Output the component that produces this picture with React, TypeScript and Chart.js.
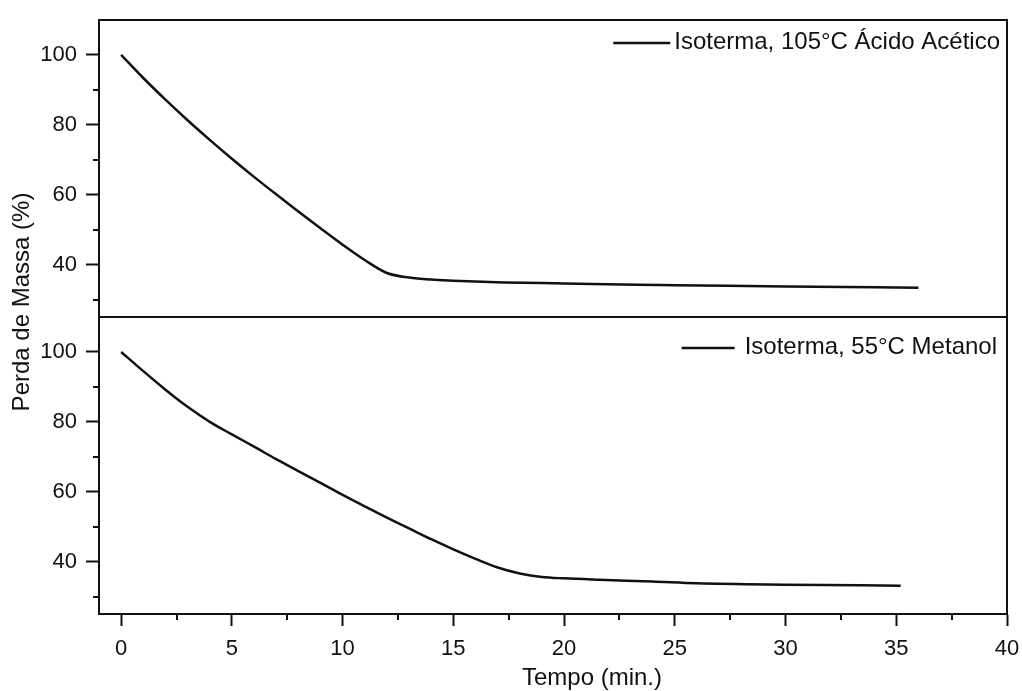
import React, { useEffect, useRef } from 'react';
import { Chart, registerables } from 'chart.js';

Chart.register(...registerables);

// ---- Data ----
const TIME_ACETIC = [0, 1, 2, 3, 4, 5, 6, 7, 8, 9, 10, 11, 12, 13, 14, 15, 17.3, 20, 23.3, 25, 30, 36];
const MASS_ACETIC = [100, 93.4, 87.2, 81.3, 75.7, 70.3, 65.1, 60.1, 55.2, 50.4, 45.7, 41.3, 37.6, 36.3, 35.7, 35.4, 34.9, 34.6, 34.2, 34.1, 33.7, 33.4];

const TIME_METANOL = [0, 1, 2, 3, 4, 5, 6, 7, 8, 9, 10, 11, 12, 13, 14, 15, 16, 17, 18, 19, 20, 21.6, 24, 26, 30, 35.2];
const MASS_METANOL = [100, 94.5, 89.2, 84.3, 80.0, 76.4, 72.9, 69.3, 65.9, 62.5, 59.1, 55.8, 52.6, 49.5, 46.4, 43.5, 40.8, 38.3, 36.6, 35.6, 35.2, 34.8, 34.3, 33.8, 33.4, 33.1];

const LABEL_ACETIC = 'Isoterma, 105°C Ácido Acético';
const LABEL_METANOL = 'Isoterma, 55°C Metanol';

const X_TITLE = 'Tempo (min.)';
const Y_TITLE = 'Perda de Massa (%)';

const X_TICKS = [0, 5, 10, 15, 20, 25, 30, 35, 40];
const X_MINOR_TICKS = [2.5, 7.5, 12.5, 17.5, 22.5, 27.5, 32.5, 37.5];
const Y_TICKS = [40, 60, 80, 100];
const Y_MINOR_TICKS = [30, 50, 70, 90];

const FONT = "'Liberation Sans', Arial, Helvetica, sans-serif";
const INK = '#111';

const toPoints = (xs: number[], ys: number[]) => xs.map((x, i) => ({ x, y: ys[i] }));

const decorPlugin = {
  id: 'decor',
  afterDraw(chart: any) {
    const { ctx, chartArea, scales } = chart;
    const x = scales.x;
    const yTop = scales.yTop;
    const yBottom = scales.yBottom;
    ctx.save();
    ctx.strokeStyle = INK;
    ctx.lineWidth = 2;
    // frames
    ctx.strokeRect(chartArea.left, yTop.top, chartArea.right - chartArea.left, yTop.bottom - yTop.top);
    ctx.strokeRect(chartArea.left, yBottom.top, chartArea.right - chartArea.left, yBottom.bottom - yBottom.top);
    // minor ticks
    ctx.beginPath();
    [yTop, yBottom].forEach((s: any) => {
      Y_MINOR_TICKS.forEach((v) => {
        const py = Math.round(s.getPixelForValue(v));
        ctx.moveTo(chartArea.left - 6, py);
        ctx.lineTo(chartArea.left, py);
      });
    });
    X_MINOR_TICKS.forEach((v) => {
      const px = Math.round(x.getPixelForValue(v));
      ctx.moveTo(px, chartArea.bottom);
      ctx.lineTo(px, chartArea.bottom + 6);
    });
    ctx.stroke();

    // axis titles
    ctx.fillStyle = INK;
    ctx.font = `24px ${FONT}`;
    ctx.textAlign = 'center';
    ctx.textBaseline = 'middle';
    ctx.fillText(X_TITLE, 592, 678);
    ctx.save();
    ctx.translate(22, 302);
    ctx.rotate(-Math.PI / 2);
    ctx.fillText(Y_TITLE, 0, 0);
    ctx.restore();

    // legends
    const legends = [
      { ds: 0, right: chartArea.right - 7, y: yTop.top + 22, gap: 4, len: 57 },
      { ds: 1, right: chartArea.right - 10, y: yBottom.top + 30, gap: 10, len: 53 },
    ];
    ctx.font = `24px ${FONT}`;
    ctx.textAlign = 'right';
    legends.forEach((l) => {
      const label = chart.data.datasets[l.ds].label;
      const w = ctx.measureText(label).width;
      ctx.fillText(label, l.right, l.y);
      const x1 = l.right - w - l.gap;
      ctx.lineWidth = 2.5;
      ctx.beginPath();
      ctx.moveTo(x1 - l.len, l.y + 1);
      ctx.lineTo(x1, l.y + 1);
      ctx.stroke();
    });
    ctx.restore();
  },
};

export default function App() {
  const canvasRef = useRef<HTMLCanvasElement | null>(null);

  useEffect(() => {
    if (!canvasRef.current) return;
    const tickFont = { family: FONT, size: 22 };
    const yScale = (extra: any) => ({
      type: 'linear',
      position: 'left',
      stack: 'panels',
      stackWeight: 1,
      min: 25,
      max: 110,
      afterBuildTicks: (s: any) => {
        s.ticks = Y_TICKS.map((value) => ({ value }));
      },
      afterFit: (s: any) => {
        s.width = 99;
        s.paddingTop = 0;
        s.paddingBottom = 0;
      },
      grid: {
        display: true,
        drawOnChartArea: false,
        drawTicks: true,
        tickLength: 13,
        tickWidth: 2,
        tickColor: INK,
      },
      border: { display: true, color: INK, width: 2 },
      ticks: { color: INK, font: tickFont, padding: 9 },
      ...extra,
    });

    const chart = new Chart(canvasRef.current, {
      type: 'line',
      data: {
        datasets: [
          {
            label: LABEL_ACETIC,
            data: toPoints(TIME_ACETIC, MASS_ACETIC),
            yAxisID: 'yTop',
            borderColor: INK,
            borderWidth: 2.5,
            pointRadius: 0,
            fill: false,
            cubicInterpolationMode: 'monotone',
          },
          {
            label: LABEL_METANOL,
            data: toPoints(TIME_METANOL, MASS_METANOL),
            yAxisID: 'yBottom',
            borderColor: INK,
            borderWidth: 2.5,
            pointRadius: 0,
            fill: false,
            cubicInterpolationMode: 'monotone',
          },
        ],
      },
      options: {
        animation: false,
        responsive: false,
        devicePixelRatio: 1,
        layout: { padding: { left: 0, top: 20, right: 15, bottom: 0 } },
        plugins: {
          legend: { display: false },
          title: { display: false },
          tooltip: { enabled: false },
        },
        scales: {
          x: {
            type: 'linear',
            position: 'bottom',
            min: -1,
            max: 40,
            afterBuildTicks: (s: any) => {
              s.ticks = X_TICKS.map((value) => ({ value }));
            },
            afterFit: (s: any) => {
              s.height = 77;
              s.paddingLeft = 0;
              s.paddingRight = 0;
            },
            grid: {
              display: true,
              drawOnChartArea: false,
              drawTicks: true,
              tickLength: 12,
              tickWidth: 2,
              tickColor: INK,
            },
            border: { display: true, color: INK, width: 2 },
            ticks: { color: INK, font: tickFont, padding: 10, maxRotation: 0, autoSkip: false },
          },
          yBottom: yScale({}),
          yTop: yScale({}),
        } as any,
      },
      plugins: [decorPlugin],
    } as any);

    return () => chart.destroy();
  }, []);

  return (
    <div style={{ position: 'absolute', left: 0, top: 0, width: 1022, height: 691, background: '#fff' }}>
      <canvas ref={canvasRef} width={1022} height={691} style={{ display: 'block' }} />
    </div>
  );
}
